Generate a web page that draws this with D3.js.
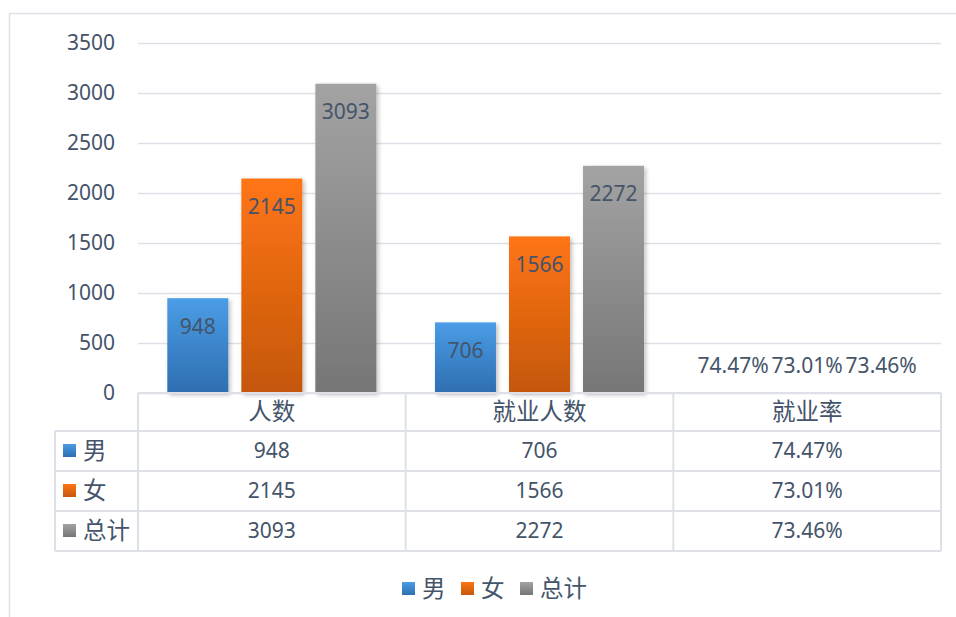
<!DOCTYPE html>
<html>
<head>
<meta charset="utf-8">
<script src="https://cdn.jsdelivr.net/npm/d3@7"></script>
<style>
  body { margin: 0; background: #fff; }
  text { fill: #44546A; }
</style>
</head>
<body>
<svg id="chart" width="956" height="617"></svg>
<script>
// data
var categories = ['人数', '就业人数', '就业率'];
var seriesNames = ['男', '女', '总计'];
var maleValues = [948, 706, 0.7447];
var femaleValues = [2145, 1566, 0.7301];
var totalValues = [3093, 2272, 0.7346];
var valueLabels = [
  ['948', '706', '74.47%'],
  ['2145', '1566', '73.01%'],
  ['3093', '2272', '73.46%']
];
var yTicks = [0, 500, 1000, 1500, 2000, 2500, 3000, 3500];

var colors = [
  {top: '#4A9DE6', bottom: '#2E6EB1'},
  {top: '#FF7513', bottom: '#C4570F'},
  {top: '#A3A3A3', bottom: '#767676'}
];
var lineColor = '#DDE1E7';
var latin = '"Noto Sans", "Open Sans", sans-serif';
var cjk = '"Noto Sans CJK SC", sans-serif';
var fs = '21px';
var fsCjk = '23.5px';

var svg = d3.select('#chart');
var plot = {left: 138, right: 941, top: 43, bottom: 393};

var allSeries = [maleValues, femaleValues, totalValues];

// outer frame
svg.append('path')
  .attr('d', 'M9.5,617 L9.5,13.5 L960,13.5')
  .attr('fill', 'none').attr('stroke', lineColor).attr('stroke-width', 1.5);

var defs = svg.append('defs');
colors.forEach(function(c, i) {
  var g = defs.append('linearGradient').attr('id', 'grad' + i)
    .attr('x1', 0).attr('y1', 0).attr('x2', 0).attr('y2', 1);
  g.append('stop').attr('offset', '0%').attr('stop-color', c.top);
  g.append('stop').attr('offset', '100%').attr('stop-color', c.bottom);
});
var shadow = defs.append('filter').attr('id', 'shadow')
  .attr('x', '-20%').attr('y', '-5%').attr('width', '150%').attr('height', '120%');
shadow.append('feDropShadow').attr('dx', 2).attr('dy', 2).attr('stdDeviation', 2)
  .attr('flood-color', '#000').attr('flood-opacity', 0.25);

var yScale = d3.scaleLinear().domain([0, 3500]).range([plot.bottom, plot.top]);
var xScale = d3.scaleBand().domain(categories).range([plot.left, plot.right]);
var xInner = d3.scaleBand().domain(seriesNames)
  .range([0, xScale.bandwidth()]).paddingInner(0.176).paddingOuter(0.396);

// grid
var grid = svg.append('g').attr('class', 'grid')
  .attr('transform', 'translate(' + plot.left + ',0)')
  .call(d3.axisLeft(yScale).tickValues(yTicks).tickSize(-(plot.right - plot.left)).tickFormat(''));
grid.select('.domain').remove();
grid.selectAll('line').attr('stroke', lineColor).attr('stroke-width', 1.5);

// y labels
svg.append('g').selectAll('text').data(yTicks).enter().append('text')
  .attr('x', 115).attr('y', function(d) { return yScale(d); })
  .attr('dy', '0.35em').attr('text-anchor', 'end')
  .style('font-family', latin).style('font-size', fs)
  .text(function(d) { return d; });

// bars
var bars = svg.append('g');
allSeries.forEach(function(vals, s) {
  var grp = bars.append('g');
  grp.selectAll('rect').data(vals).enter().append('rect')
    .attr('x', function(d, i) { return xScale(categories[i]) + xInner(seriesNames[s]); })
    .attr('y', function(d) { return yScale(d); })
    .attr('width', xInner.bandwidth())
    .attr('height', function(d) { return yScale(0) - yScale(d); })
    .attr('fill', 'url(#grad' + s + ')')
    .attr('filter', 'url(#shadow)');
  grp.selectAll('text').data(vals).enter().append('text')
    .attr('x', function(d, i) { return xScale(categories[i]) + xInner(seriesNames[s]) + xInner.bandwidth() / 2; })
    .attr('y', function(d) {
      var top = yScale(d);
      return (yScale(0) - top > 40) ? top + 28 : top - 27;
    })
    .attr('dy', '0.35em').attr('text-anchor', 'middle')
    .style('font-family', latin).style('font-size', fs)
    .text(function(d, i) { return valueLabels[s][i]; });
});

// data table
var table = svg.append('g');
var rowY = [393, 431, 471, 511, 551];
var tableLeft = 55;
function hline(x1, x2, y) {
  table.append('line').attr('x1', x1).attr('x2', x2).attr('y1', y).attr('y2', y)
    .attr('stroke', lineColor).attr('stroke-width', 2);
}
function vline(x, y1, y2) {
  table.append('line').attr('x1', x).attr('x2', x).attr('y1', y1).attr('y2', y2)
    .attr('stroke', lineColor).attr('stroke-width', 2);
}
hline(plot.left, plot.right, rowY[0]);
for (var r = 1; r < rowY.length; r++) hline(tableLeft, plot.right, rowY[r]);
vline(tableLeft, rowY[1], rowY[4]);
categories.forEach(function(c) { vline(xScale(c), rowY[0], rowY[4]); });
vline(plot.right, rowY[0], rowY[4]);

table.selectAll('.hdr').data(categories).enter().append('text')
  .attr('x', function(d) { return xScale(d) + xScale.bandwidth() / 2; })
  .attr('y', (rowY[0] + rowY[1]) / 2)
  .attr('dy', '0.35em').attr('text-anchor', 'middle')
  .style('font-family', cjk).style('font-size', fsCjk)
  .text(function(d) { return d; });

seriesNames.forEach(function(name, s) {
  var cy = (rowY[s + 1] + rowY[s + 2]) / 2;
  table.append('rect').attr('x', 63).attr('y', cy - 7).attr('width', 13).attr('height', 13)
    .attr('fill', 'url(#grad' + s + ')');
  table.append('text').attr('x', 83).attr('y', cy).attr('dy', '0.35em')
    .style('font-family', cjk).style('font-size', fsCjk).text(name);
  categories.forEach(function(c, i) {
    table.append('text')
      .attr('x', xScale(c) + xScale.bandwidth() / 2).attr('y', cy)
      .attr('dy', '0.35em').attr('text-anchor', 'middle')
      .style('font-family', latin).style('font-size', fs)
      .text(valueLabels[s][i]);
  });
});

// legend
var legendX = [402, 461, 520];
var legend = svg.append('g');
seriesNames.forEach(function(name, s) {
  legend.append('rect').attr('x', legendX[s]).attr('y', 582).attr('width', 13).attr('height', 13)
    .attr('fill', 'url(#grad' + s + ')');
  legend.append('text').attr('x', legendX[s] + 20).attr('y', 589).attr('dy', '0.35em')
    .style('font-family', cjk).style('font-size', fsCjk).text(name);
});
</script>
</body>
</html>
